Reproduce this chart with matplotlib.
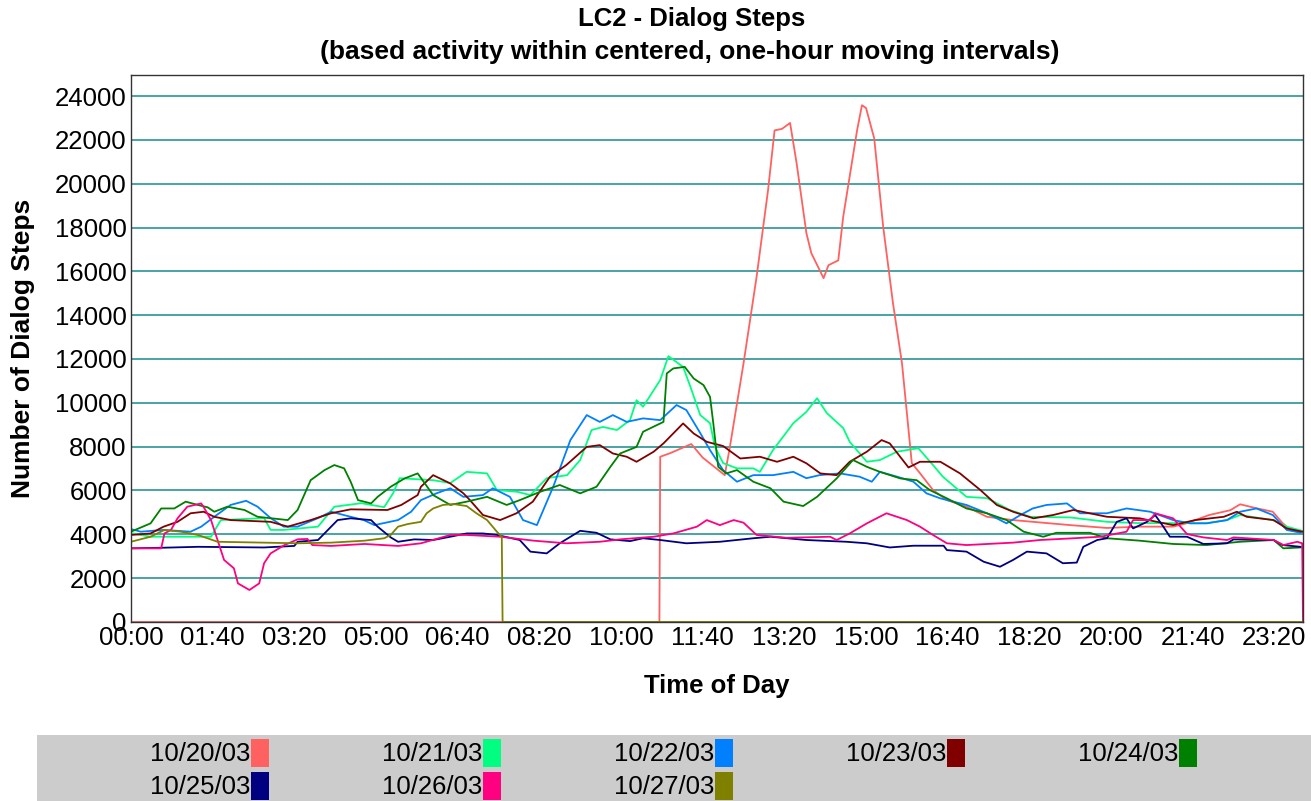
"""LC2 dialog steps by time of day, one line per day."""
import matplotlib
matplotlib.use('Agg')
import matplotlib.pyplot as plt
from matplotlib.patches import Rectangle

plt.rcParams['font.family'] = ['Liberation Sans', 'DejaVu Sans']

# time in minutes after midnight, values = dialog steps
t_1020 = [0, 647, 648, 660, 686, 700, 727, 733, 750, 766, 780, 788, 797, 807, 815, 827, 833, 848, 854, 866,
          872, 889, 895, 900, 910, 921, 933, 944, 956, 966, 982, 999, 1023, 1048, 1080, 1150, 1195, 1235,
          1276, 1293, 1320, 1346, 1358, 1378, 1398, 1410, 1420, 1434]
v_1020 = [0, 0, 7540, 7700, 8120, 7500, 6700, 7920, 11800, 15750, 19700, 22430, 22500, 22770, 20930, 17740,
          16830, 15690, 16280, 16500, 18480, 22430, 23580, 23450, 22070, 18030, 14540, 11810, 7250, 6790,
          6020, 5560, 5260, 4800, 4650, 4420, 4290, 4350, 4350, 4510, 4880, 5100, 5370, 5190, 5030, 4510,
          4200, 4120]

t_1021 = [0, 24, 98, 110, 163, 171, 187, 229, 249, 282, 310, 321, 329, 370, 391, 411, 436, 448, 473, 489,
          509, 534, 550, 564, 578, 595, 611, 619, 627, 648, 658, 676, 685, 697, 709, 715, 725, 742, 762,
          770, 786, 811, 827, 840, 852, 872, 880, 901, 917, 938, 964, 982, 994, 1023, 1048, 1076, 1101,
          1150, 1195, 1235, 1317, 1342, 1358, 1398, 1415, 1434]
v_1021 = [4050, 3890, 3890, 4650, 4740, 4200, 4200, 4350, 5260, 5420, 5240, 5880, 6560, 6470, 6340, 6850,
          6780, 6020, 5940, 5790, 6560, 6700, 7390, 8760, 8900, 8760, 9210, 10120, 9820, 11040, 12130,
          11640, 10730, 9440, 9070, 7990, 7250, 7010, 7010, 6850, 7840, 9070, 9590, 10210, 9530, 8850,
          8220, 7310, 7390, 7770, 7930, 7160, 6630, 5710, 5650, 5110, 4800, 4770, 4570, 4510, 4510, 4650,
          4880, 4650, 4350, 4160]

t_1022 = [0, 12, 40, 73, 86, 102, 122, 141, 155, 171, 187, 204, 229, 245, 269, 285, 298, 327, 343, 355,
          374, 391, 407, 431, 443, 464, 480, 497, 517, 538, 558, 574, 590, 607, 627, 648, 668, 680, 697,
          709, 725, 742, 762, 786, 811, 827, 843, 868, 892, 907, 917, 938, 958, 974, 991, 1023, 1048,
          1072, 1089, 1104, 1121, 1146, 1162, 1195, 1219, 1248, 1276, 1297, 1317, 1342, 1358, 1378,
          1398, 1415, 1432]
v_1022 = [4240, 4120, 4200, 4120, 4350, 4800, 5340, 5530, 5260, 4740, 4350, 4350, 4740, 5030, 4800, 4650,
          4420, 4650, 5030, 5560, 5870, 6100, 5710, 5790, 6100, 5710, 4650, 4420, 6170, 8300, 9440, 9130,
          9440, 9130, 9290, 9210, 9900, 9670, 8620, 7840, 6930, 6400, 6700, 6700, 6850, 6560, 6700, 6780,
          6630, 6400, 6850, 6630, 6400, 5870, 5640, 5340, 4960, 4500, 4880, 5180, 5340, 5410, 4960, 4960,
          5180, 5030, 4650, 4500, 4500, 4650, 5030, 5180, 4880, 4200, 4070]

t_1023 = [0, 24, 40, 57, 73, 89, 102, 122, 171, 192, 220, 245, 269, 314, 331, 351, 355, 370, 391, 407,
          415, 431, 452, 472, 492, 513, 533, 558, 574, 590, 607, 619, 640, 652, 676, 689, 705, 725, 746,
          770, 791, 811, 827, 844, 864, 880, 901, 919, 929, 952, 966, 991, 1015, 1040, 1060, 1080, 1105,
          1129, 1154, 1195, 1235, 1276, 1303, 1338, 1354, 1366, 1399, 1415, 1434]
v_1023 = [3970, 4040, 4350, 4570, 4960, 5030, 4800, 4650, 4570, 4350, 4650, 4960, 5140, 5110, 5340, 5790,
          6170, 6700, 6320, 5870, 5560, 4880, 4650, 4960, 5490, 6630, 7160, 7990, 8070, 7690, 7540, 7310,
          7770, 8150, 9060, 8600, 8220, 8030, 7460, 7540, 7310, 7540, 7240, 6780, 6700, 7310, 7770, 8300,
          8150, 7050, 7310, 7310, 6780, 6020, 5340, 5030, 4730, 4880, 5110, 4800, 4730, 4420, 4650, 4800,
          5030, 4800, 4650, 4270, 4120]

t_1024 = [0, 24, 37, 53, 67, 82, 94, 102, 118, 139, 155, 192, 204, 220, 237, 249, 261, 269, 278, 294, 302,
          318, 335, 351, 370, 391, 411, 436, 460, 476, 501, 525, 550, 570, 587, 599, 619, 627, 652, 656,
          664, 678, 689, 701, 709, 713, 719, 729, 742, 762, 783, 799, 823, 840, 864, 884, 901, 917, 942,
          962, 978, 999, 1023, 1048, 1072, 1093, 1117, 1133, 1174, 1195, 1235, 1276, 1317, 1358, 1399,
          1411, 1432]
v_1024 = [4120, 4500, 5180, 5180, 5490, 5340, 5230, 5030, 5260, 5110, 4800, 4650, 5110, 6470, 6930, 7160,
          7010, 6400, 5560, 5410, 5710, 6170, 6550, 6780, 5790, 5340, 5490, 5710, 5340, 5560, 5940, 6250,
          5870, 6170, 7080, 7690, 7990, 8680, 9130, 11340, 11570, 11640, 11110, 10810, 10270, 9060, 7080,
          6780, 6930, 6400, 6100, 5490, 5290, 5710, 6550, 7390, 7080, 6850, 6550, 6470, 6020, 5640, 5180,
          4960, 4650, 4120, 3890, 4070, 4070, 3820, 3710, 3560, 3510, 3660, 3740, 3360, 3400]

t_1025 = [0, 41, 82, 163, 200, 204, 229, 253, 269, 294, 302, 318, 327, 347, 370, 391, 411, 431, 448, 476,
          489, 509, 525, 550, 570, 587, 611, 627, 648, 680, 721, 762, 783, 827, 876, 901, 929, 958, 995,
          999, 1023, 1044, 1064, 1080, 1097, 1121, 1141, 1158, 1166, 1183, 1195, 1207, 1219, 1227, 1244,
          1254, 1264, 1272, 1293, 1313, 1342, 1350, 1399, 1410, 1432]
v_1025 = [3360, 3390, 3430, 3400, 3470, 3660, 3740, 4650, 4730, 4650, 4350, 3860, 3660, 3770, 3740, 3890,
          4040, 4040, 3970, 3740, 3210, 3130, 3590, 4160, 4070, 3770, 3690, 3820, 3740, 3590, 3660, 3820,
          3890, 3740, 3660, 3590, 3400, 3480, 3480, 3280, 3210, 2750, 2520, 2830, 3210, 3130, 2680, 2710,
          3430, 3740, 3820, 4570, 4730, 4270, 4570, 4880, 4350, 3890, 3890, 3560, 3590, 3770, 3740, 3510,
          3430]

t_1026 = [0, 37, 41, 49, 57, 69, 86, 90, 98, 106, 114, 126, 131, 145, 157, 163, 171, 188, 204, 216, 222,
          245, 286, 327, 355, 391, 411, 452, 493, 533, 574, 599, 640, 664, 693, 705, 721, 738, 750, 766,
          803, 856, 864, 880, 901, 925, 950, 966, 982, 999, 1023, 1080, 1113, 1154, 1187, 1219, 1227,
          1248, 1254, 1276, 1293, 1313, 1342, 1350, 1399, 1411, 1428, 1434, 1435]
v_1026 = [3360, 3360, 4040, 4200, 4730, 5260, 5410, 5180, 4650, 3740, 2830, 2450, 1760, 1460, 1760, 2680,
          3130, 3510, 3770, 3790, 3510, 3470, 3560, 3470, 3590, 3970, 3970, 3890, 3710, 3590, 3660, 3770,
          3890, 4040, 4350, 4650, 4420, 4650, 4530, 3970, 3840, 3890, 3740, 4040, 4500, 4960, 4650, 4350,
          3970, 3590, 3510, 3620, 3740, 3820, 3890, 4120, 4650, 4650, 4960, 4730, 4010, 3860, 3740, 3860,
          3740, 3510, 3660, 3590, 0]

t_1027 = [0, 24, 41, 61, 82, 106, 163, 204, 245, 286, 310, 318, 327, 339, 355, 362, 370, 382, 395, 411,
          423, 436, 448, 454, 455, 1435]
v_1027 = [3660, 3890, 4200, 4120, 3970, 3660, 3620, 3590, 3620, 3710, 3820, 3970, 4350, 4470, 4570, 4960,
          5180, 5340, 5380, 5290, 4960, 4650, 4120, 3890, 0, 0]

dates = ['10/20/03', '10/21/03', '10/22/03', '10/23/03', '10/24/03', '10/25/03', '10/26/03', '10/27/03']
colors = ['#ff6060', '#00ff80', '#0080ff', '#800000', '#008000', '#000080', '#ff0080', '#808000']
series = [(t_1020, v_1020), (t_1021, v_1021), (t_1022, v_1022), (t_1023, v_1023),
          (t_1024, v_1024), (t_1025, v_1025), (t_1026, v_1026), (t_1027, v_1027)]

x_ticks = list(range(0, 1401, 100))
x_labels = ['%02d:%02d' % (m // 60, m % 60) for m in x_ticks]
y_ticks = list(range(0, 24001, 2000))

W, H = 1311, 801
fig = plt.figure(figsize=(13.11, 8.01), dpi=100)
ax = fig.add_axes([0.0999, 0.2235, 0.894, 0.6829])

for y in y_ticks[1:]:
    ax.axhline(y, color='#3a9d9d', lw=1.3, zorder=1)

for (t, v), c in zip(series, colors):
    ax.plot(t, v, color=c, lw=1.3, zorder=2)

ax.set_xlim(0, 1435)
ax.set_ylim(0, 24960)
ax.set_xticks(x_ticks)
ax.set_xticklabels(x_labels)
ax.set_yticks(y_ticks)
ax.tick_params(length=0, labelsize=18.5, pad=3)
for s in ax.spines.values():
    s.set_color('#333333')
    s.set_linewidth(1.0)

# title, two lines, centred a little left of the plot centre as in the original
fig.text(692 / W, 1 - 19 / H, 'LC2 - Dialog Steps', ha='center', va='center',
         fontsize=18.5, fontweight='bold')
fig.text(690 / W, 1 - 52 / H, '(based activity within centered, one-hour moving intervals)',
         ha='center', va='center', fontsize=19, fontweight='bold')
ax.set_xlabel('Time of Day', fontsize=18.5, fontweight='bold', labelpad=17)
ax.set_ylabel('Number of Dialog Steps', fontsize=19, fontweight='bold', labelpad=14)

# legend strip along the bottom
fig.patches.append(Rectangle((37 / W, 0), 1 - 37 / W, 66 / H, transform=fig.transFigure,
                             facecolor='#cccccc', edgecolor='none'))
for i, (d, c) in enumerate(zip(dates, colors)):
    row, col = divmod(i, 5)
    x0 = 251 + 232 * col
    ytop = 739 + 33 * row
    fig.patches.append(Rectangle((x0 / W, 1 - (ytop + 28) / H), 18 / W, 28 / H,
                                 transform=fig.transFigure, facecolor=c, edgecolor='none'))
    fig.text((x0 - 1) / W, 1 - (ytop + 15) / H, d, ha='right', va='center', fontsize=18.5)

fig.savefig('out.png', dpi=100)
